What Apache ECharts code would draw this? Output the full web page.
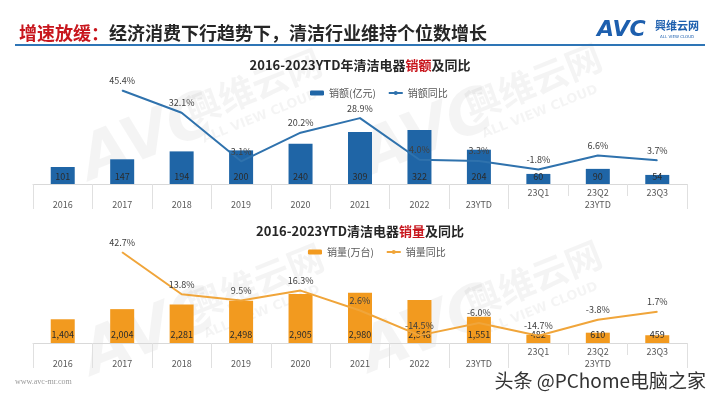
<!DOCTYPE html>
<html>
<head>
<meta charset="utf-8">
<script src="https://cdn.jsdelivr.net/npm/echarts@6/dist/echarts.min.js"></script>
<style>
html,body{margin:0;padding:0;background:#fff;}
#c{width:720px;height:405px;}
</style>
</head>
<body>
<div id="c"></div>
<script>
// ---- data ----
const categories = ['2016','2017','2018','2019','2020','2021','2022','23YTD','23Q1','23Q2','23Q3'];
const quarterGroupLabel = '23YTD';
const salesValue = [101,147,194,200,240,309,322,204,60,90,54];
const salesValueYoY = ['-',45.4,32.1,3.1,20.2,28.9,4.0,3.3,-1.8,6.6,3.7];
const salesVolume = [1404,2004,2281,2498,2905,2980,2548,1551,482,610,459];
const salesVolumeYoY = ['-',42.7,13.8,9.5,16.3,2.6,-14.5,-6.0,-14.7,-3.8,1.7];
const seriesNames = ['销额(亿元)','销额同比','销量(万台)','销量同比'];

const FONT = '"Noto Sans CJK SC", "Microsoft YaHei", sans-serif';
const BLUE_BAR = '#1f65a6';
const BLUE_LINE = '#2f72ad';
const ORANGE_BAR = '#f29a1f';
const ORANGE_LINE = '#f0a53a';
const QSTART = categories.indexOf('23Q1');

function mainAxis(grid) {
  return {
    type:'category', gridIndex:grid, data:categories, position:'bottom',
    axisLine:{onZero:false, lineStyle:{color:'#d9d9d9', width:1}},
    axisTick:{show:true, length:25, alignWithLabel:false,
      interval:function(i){ return !(i > QSTART && i <= QSTART + 2); },
      lineStyle:{color:'#e0e0e0'}},
    axisLabel:{interval:0, margin:16, fontSize:9, color:'#595959', fontFamily:FONT,
      formatter:function(v,i){ return i < QSTART ? v : (i === QSTART + 1 ? quarterGroupLabel : ''); }},
    splitLine:{show:false}
  };
}
function quarterAxis(grid) {
  return {
    type:'category', gridIndex:grid, data:categories, position:'bottom',
    axisLine:{show:false, onZero:false},
    axisTick:{show:true, length:12, alignWithLabel:false,
      interval:function(i){ return (i > QSTART && i <= QSTART + 2); },
      lineStyle:{color:'#e0e0e0'}},
    axisLabel:{interval:0, margin:4, fontSize:9, color:'#595959', fontFamily:FONT,
      formatter:function(v,i){ return i >= QSTART ? v : ''; }},
    splitLine:{show:false}
  };
}
function hiddenY(grid, min, max) {
  return {type:'value', gridIndex:grid, min:min, max:max, show:false, splitLine:{show:false}};
}
const pctLabel = {show:true, position:'top', distance:5, fontSize:9, color:'#404040', fontFamily:FONT,
  formatter:function(p){ return Number(p.value).toFixed(1) + '%'; }};

function watermark(cx, cy) {
  const rot = 0.38, fill = 'rgba(0,0,0,0.045)';
  return [
    {type:'text', x:cx, y:cy + 45, rotation:rot, silent:true,
      style:{text:'AVC', fill:fill, font:'italic bold 62px "DejaVu Sans", sans-serif', textAlign:'center', textVerticalAlign:'middle'}},
    {type:'text', x:cx + 105, y:cy - 8, rotation:rot, silent:true,
      style:{text:'興维云网', fill:fill, font:'bold 36px ' + FONT, textAlign:'center', textVerticalAlign:'middle'}},
    {type:'text', x:cx + 112, y:cy + 22, rotation:rot, silent:true,
      style:{text:'ALL VIEW CLOUD', fill:fill, font:'bold 13px "DejaVu Sans", sans-serif', textAlign:'center', textVerticalAlign:'middle'}}
  ];
}

const chart = echarts.init(document.getElementById('c'), null, {renderer:'canvas'});
chart.setOption({
  backgroundColor:'#fff',
  animation:false,
  textStyle:{fontFamily:FONT},
  title:[
    {text:'{r|增速放缓：}经济消费下行趋势下，清洁行业维持个位数增长', left:14, top:19,
      textStyle:{fontSize:18, fontWeight:'bold', color:'#262626', fontFamily:FONT,
        rich:{r:{fontSize:18, fontWeight:'bold', color:'#c8161d', fontFamily:FONT}}}},
    {text:'2016-2023YTD年清洁电器{r|销额}及同比', left:'center', top:54,
      textStyle:{fontSize:13, fontWeight:'bold', color:'#262626', fontFamily:FONT,
        rich:{r:{fontSize:13, fontWeight:'bold', color:'#c8161d', fontFamily:FONT}}}},
    {text:'2016-2023YTD清洁电器{r|销量}及同比', left:'center', top:220,
      textStyle:{fontSize:13, fontWeight:'bold', color:'#262626', fontFamily:FONT,
        rich:{r:{fontSize:13, fontWeight:'bold', color:'#c8161d', fontFamily:FONT}}}}
  ],
  legend:[
    {data:[seriesNames[0], seriesNames[1]], left:305, top:83, itemWidth:14, itemHeight:5, itemGap:12,
      textStyle:{fontSize:10, color:'#595959', fontFamily:FONT}},
    {data:[seriesNames[2], seriesNames[3]], left:303, top:242, itemWidth:14, itemHeight:5, itemGap:12,
      textStyle:{fontSize:10, color:'#595959', fontFamily:FONT}}
  ],
  grid:[
    {left:33, right:33, top:64, height:120},
    {left:33, right:33, top:223, height:120}
  ],
  xAxis:[mainAxis(0), quarterAxis(0), mainAxis(1), quarterAxis(1)],
  yAxis:[hiddenY(0,0,714), hiddenY(0,-10.45,61.2), hiddenY(1,0,7100), hiddenY(1,-19.75,62.8)],
  series:[
    {name:seriesNames[0], type:'bar', xAxisIndex:0, yAxisIndex:0, data:salesValue, barWidth:24,
      itemStyle:{color:BLUE_BAR},
      label:{show:true, position:'insideBottom', distance:3, fontSize:9, color:'#2b2b2b', fontFamily:FONT}},
    {name:seriesNames[1], type:'line', xAxisIndex:0, yAxisIndex:1, data:salesValueYoY,
      symbol:'circle', symbolSize:1, lineStyle:{color:BLUE_LINE, width:2}, itemStyle:{color:BLUE_LINE},
      label:pctLabel, z:5},
    {name:seriesNames[2], type:'bar', xAxisIndex:2, yAxisIndex:2, data:salesVolume, barWidth:24,
      itemStyle:{color:ORANGE_BAR},
      label:{show:true, position:'insideBottom', distance:4, fontSize:9, color:'#2b2b2b', fontFamily:FONT,
        formatter:function(p){ return Number(p.value).toLocaleString('en-US'); }}},
    {name:seriesNames[3], type:'line', xAxisIndex:2, yAxisIndex:3, data:salesVolumeYoY,
      symbol:'circle', symbolSize:1, lineStyle:{color:ORANGE_LINE, width:2}, itemStyle:{color:ORANGE_LINE},
      label:pctLabel, z:5}
  ],
  graphic:[].concat(
    watermark(148, 95), watermark(428, 90), watermark(150, 290), watermark(428, 287),
    [
      {type:'line', shape:{x1:15, y1:45, x2:705, y2:45}, style:{stroke:'#2e75b6', lineWidth:2}, silent:true},
      {type:'text', x:597, y:30, silent:true,
        style:{text:'AVC', fill:'#1d5fae', font:'italic bold 22px "DejaVu Sans", sans-serif', textVerticalAlign:'middle'}},
      {type:'text', x:655, y:26, silent:true,
        style:{text:'興维云网', fill:'#1d5fae', font:'bold 11px ' + FONT, textVerticalAlign:'middle'}},
      {type:'text', x:660, y:37, silent:true,
        style:{text:'ALL VIEW CLOUD', fill:'#1d5fae', font:'4px "DejaVu Sans", sans-serif', textVerticalAlign:'middle'}},
      {type:'text', x:15, y:382, silent:true,
        style:{text:'www.avc-mr.com', fill:'#9a9a9a', font:'8px "Liberation Serif", serif', textVerticalAlign:'middle'}},
      {type:'text', x:706, y:381, silent:true,
        style:{text:'头条 @PChome电脑之家', fill:'#333', stroke:'#fff', lineWidth:1, font:'19px ' + FONT, textAlign:'right', textVerticalAlign:'middle'}}
    ]
  )
});
</script>
</body>
</html>
